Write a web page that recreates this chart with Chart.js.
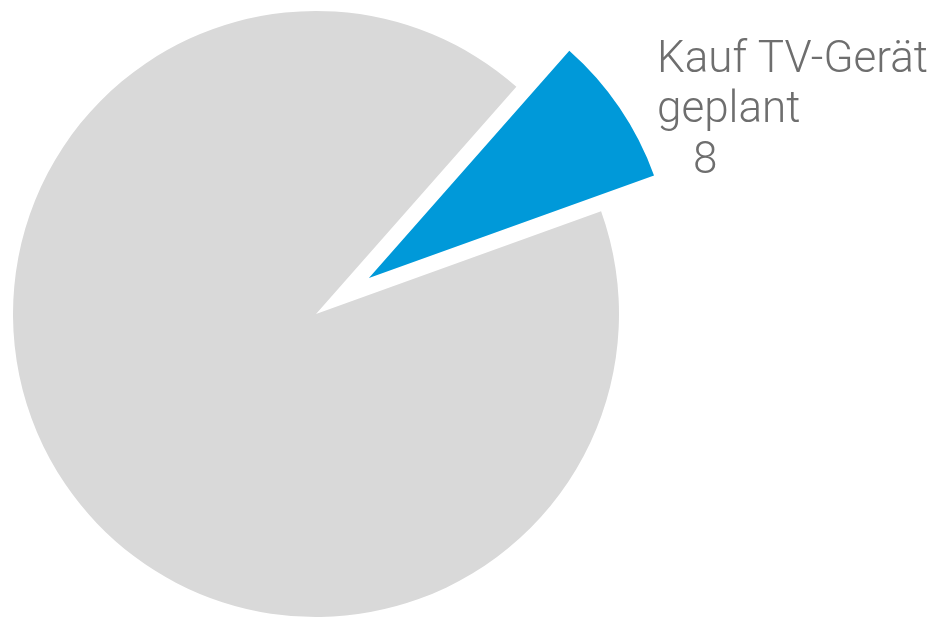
<!DOCTYPE html>
<html><head><meta charset="utf-8">
<script src="https://cdn.jsdelivr.net/npm/chart.js@4/dist/chart.umd.min.js"></script>
<style>html,body{margin:0;padding:0;background:#fff;}#wrap{width:934px;height:617px;}</style>
</head><body><div id="wrap"><canvas id="c"></canvas></div>
<script>
const categories = ['Kauf TV-Gerät geplant', 'Rest'];
const values = [8, 92];
const labelLines = ['Kauf TV-Gerät', 'geplant'];
const colors = ['#0099d9', '#d9d9d9'];
const explode = [64, 0];

const explodePlugin = {
  id: 'explode',
  afterUpdate(chart) {
    chart.getDatasetMeta(0).data.forEach((arc, i) => {
      const d = explode[i] || 0;
      if (!d) return;
      const half = (arc.startAngle + arc.endAngle) / 2;
      arc.x += Math.cos(half) * d;
      arc.y += Math.sin(half) * d;
    });
  }
};

const labelPlugin = {
  id: 'lbl',
  afterDraw(chart) {
    const ctx = chart.ctx;
    const area = chart.chartArea;
    const cx = (area.left + area.right) / 2, cy = (area.top + area.bottom) / 2;
    ctx.save();
    ctx.fillStyle = '#6e6e6e';
    ctx.font = '300 44px Roboto';
    ctx.textBaseline = 'alphabetic';
    ctx.textAlign = 'left';
    const x0 = cx + 341, y0 = cy - 242;
    ctx.fillText(labelLines[0], x0, y0);
    ctx.fillText(labelLines[1], x0, y0 + 50);
    ctx.fillText(String(values[0]), x0 + 36, y0 + 101);
    ctx.restore();
  }
};

new Chart(document.getElementById('c'), {
  type: 'pie',
  data: { labels: categories, datasets: [{ data: values, backgroundColor: colors, borderWidth: 0, radius: 303 }] },
  options: {
    responsive: true, maintainAspectRatio: false, animation: false,
    rotation: 41.4,
    layout: { padding: { left: 0, right: 302, top: 11, bottom: 0 } },
    plugins: { legend: { display: false }, tooltip: { enabled: false } }
  },
  plugins: [explodePlugin, labelPlugin]
});
</script></body></html>
